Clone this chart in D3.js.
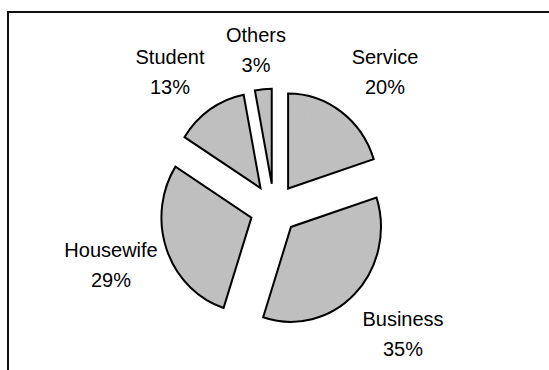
<!DOCTYPE html>
<html>
<head>
<meta charset="utf-8">
<script src="https://cdn.jsdelivr.net/npm/d3@7"></script>
<style>
  html, body { margin: 0; padding: 0; background: #fff; }
  svg { display: block; }
  text { font-family: "Liberation Sans", Arial, sans-serif; fill: #000; }
</style>
</head>
<body>
<svg id="chart" width="549" height="370"></svg>
<script>
// Occupation shares (percent)
const categories = ["Service", "Business", "Housewife", "Student", "Others"];
const shares = [20, 35, 29, 13, 3];

const width = 549, height = 370;
const svg = d3.select("#chart");

// Outer frame (runs off the right and bottom edges)
svg.append("line")
  .attr("x1", 7).attr("x2", width).attr("y1", 12).attr("y2", 12)
  .attr("stroke", "#111").attr("stroke-width", 2);
svg.append("line")
  .attr("x1", 8).attr("x2", 8).attr("y1", 11).attr("y2", height)
  .attr("stroke", "#111").attr("stroke-width", 2);

// Subtle grain for the slice fill
const defs = svg.append("defs");
const filt = defs.append("filter").attr("id", "grain");
filt.append("feTurbulence").attr("type", "fractalNoise").attr("baseFrequency", 1.2)
  .attr("numOctaves", 2).attr("seed", 3).attr("result", "noise");
filt.append("feColorMatrix").attr("in", "noise").attr("type", "matrix")
  .attr("values", "0 0 0 0 0.6  0 0 0 0 0.6  0 0 0 0 0.6  0 0 0 0.3 0").attr("result", "n2");
filt.append("feComposite").attr("in", "n2").attr("in2", "SourceGraphic").attr("operator", "in").attr("result", "n3");
filt.append("feMerge").selectAll("feMergeNode").data(["SourceGraphic", "n3"]).join("feMergeNode").attr("in", d => d);

const cx = 274, cy = 209;
const rx = 90, ry = 95;
const explode = 24;

const pie = d3.pie().sort(null).value(d => d)(shares);
const arc = d3.arc().innerRadius(0).outerRadius(rx);

const g = svg.append("g")
  .attr("transform", `translate(${cx},${cy}) scale(1,${ry / rx})`);

const shift = d => {
  const a = (d.startAngle + d.endAngle) / 2;
  return `translate(${explode * Math.sin(a)},${-explode * Math.cos(a)})`;
};

// Fill layer
g.selectAll("path.slice")
  .data(pie)
  .join("path")
  .attr("class", "slice")
  .attr("transform", shift)
  .attr("d", arc)
  .attr("fill", "#bdbdbd")
  .attr("filter", "url(#grain)");

// Outline layer
g.selectAll("path.outline")
  .data(pie)
  .join("path")
  .attr("class", "outline")
  .attr("transform", shift)
  .attr("d", arc)
  .attr("fill", "none")
  .attr("stroke", "#000")
  .attr("stroke-width", 2)
  .attr("stroke-linejoin", "miter");

// Labels: category name above, percentage below
const labelPos = [
  [385, 64], [403, 326], [111, 257], [170, 64], [256, 42]
];

const labels = svg.append("g").selectAll("g")
  .data(categories.map((c, i) => ({ name: c, value: shares[i], pos: labelPos[i] })))
  .join("g")
  .attr("transform", d => `translate(${d.pos[0]},${d.pos[1]})`);

labels.append("text")
  .attr("text-anchor", "middle")
  .attr("font-size", 20)
  .text(d => d.name);
labels.append("text")
  .attr("text-anchor", "middle")
  .attr("font-size", 20)
  .attr("y", 30)
  .text(d => d.value + "%");
</script>
</body>
</html>
